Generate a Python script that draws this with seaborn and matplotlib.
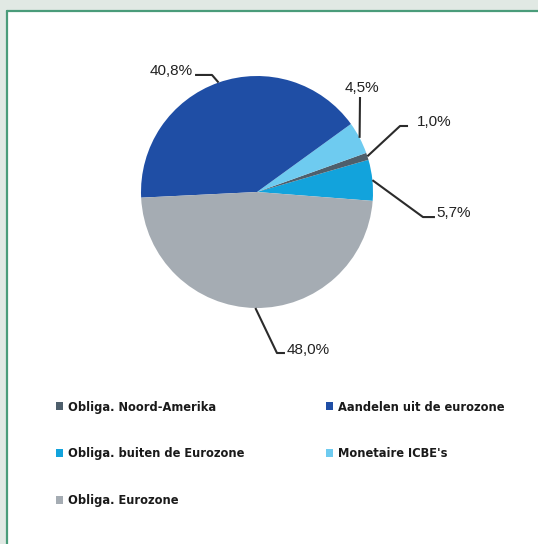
import numpy as np
import matplotlib
matplotlib.use("Agg")
import matplotlib.pyplot as plt
import matplotlib.patches as mpatches
import seaborn as sns

# data (pie order, counter-clockwise from the right)
categories = ["Obliga. buiten de Eurozone", "Obliga. Noord-Amerika", "Monetaire ICBE's",
              "Aandelen uit de eurozone", "Obliga. Eurozone"]
values = [5.7, 1.0, 4.5, 40.8, 48.0]
pct_labels = ["5,7%", "1,0%", "4,5%", "40,8%", "48,0%"]
legend_col1 = ["Obliga. Noord-Amerika", "Obliga. buiten de Eurozone", "Obliga. Eurozone"]
legend_col2 = ["Aandelen uit de eurozone", "Monetaire ICBE's"]

colors = {"Obliga. buiten de Eurozone": "#12a3dc",
          "Obliga. Noord-Amerika": "#4e5f6c",
          "Monetaire ICBE's": "#6ecbf0",
          "Aandelen uit de eurozone": "#1f4ea5",
          "Obliga. Eurozone": "#a5acb3"}

sns.set_theme(style="white")
plt.rcParams['font.family'] = ['Liberation Sans', 'DejaVu Sans']

W, H = 538, 544
fig = plt.figure(figsize=(W / 100, H / 100), dpi=100)
fig.patch.set_facecolor("#e1e9e4")

# white panel with green frame line (top/left)
fig.patches.append(mpatches.Rectangle((7 / W, 0), 1, 1 - 11 / H, transform=fig.transFigure,
                                      facecolor="white", edgecolor="none", zorder=-5))
fig.lines.append(plt.Line2D([6.5 / W, 1], [1 - 10.5 / H] * 2, transform=fig.transFigure,
                            color="#4a9c7a", lw=1.6, zorder=-4))
fig.lines.append(plt.Line2D([6.5 / W] * 2, [0, 1 - 10.5 / H], transform=fig.transFigure,
                            color="#4a9c7a", lw=1.6, zorder=-4))

# pie axes: centre (257, 192) px, radius 116 px
R = 116
cx, cy = 257, H - 192
left, right, bot, top = 7, 538, 130, 533
ax = fig.add_axes([left / W, bot / H, (right - left) / W, (top - bot) / H], zorder=2)
ax.axis("off")
ax.patch.set_alpha(0)

wedges, _ = ax.pie(values, colors=[colors[c] for c in categories], startangle=-4.4,
                   counterclock=True, radius=1.0, wedgeprops=dict(linewidth=0))
ax.set_xlim(-(cx - left) / R, (right - cx) / R)
ax.set_ylim(-(cy - bot) / R, (top - cy) / R)
ax.set_aspect("auto")

# leader lines: (elbow, line end, text pos, ha)
leaders = {
    "5,7%": ((1.431, -0.216), (1.534, -0.216), (1.55, -0.18), "left"),
    "1,0%": ((1.233, 0.569), (1.302, 0.569), (1.375, 0.60), "left"),
    "4,5%": ((0.888, 0.819), (0.888, 0.819), (0.905, 0.90), "center"),
    "40,8%": ((-0.388, 1.009), (-0.534, 1.009), (-0.55, 1.045), "right"),
    "48,0%": ((0.172, -1.388), (0.241, -1.388), (0.255, -1.36), "left"),
}
for w, lab in zip(wedges, pct_labels):
    mid = np.deg2rad((w.theta1 + w.theta2) / 2)
    ax_, ay_ = np.cos(mid), np.sin(mid)
    elbow, end, tpos, ha = leaders[lab]
    ax.plot([ax_, elbow[0], end[0]], [ay_, elbow[1], end[1]], color="#2b2b2b", lw=1.5,
            solid_capstyle="butt")
    ax.text(tpos[0], tpos[1], lab, ha=ha, va="center", fontsize=11, color="#222222")

leg_font = dict(family=['DejaVu Sans', 'Liberation Sans'], stretch="condensed",
                weight="bold", size=9.2)
for names, x0 in [(legend_col1, 53), (legend_col2, 323)]:
    handles = [mpatches.Patch(facecolor=colors[c], edgecolor="none") for c in names]
    leg = fig.legend(handles, names, loc="upper left",
                     bbox_to_anchor=(x0 / W, 1 - 398 / H), frameon=False,
                     handlelength=0.6, handleheight=0.6, handletextpad=0.35,
                     labelspacing=2.65, prop=leg_font, borderaxespad=0, borderpad=0.2)
    for t in leg.get_texts():
        t.set_color("#1a1a1a")

fig.savefig("out.png", dpi=100, facecolor=fig.get_facecolor())
